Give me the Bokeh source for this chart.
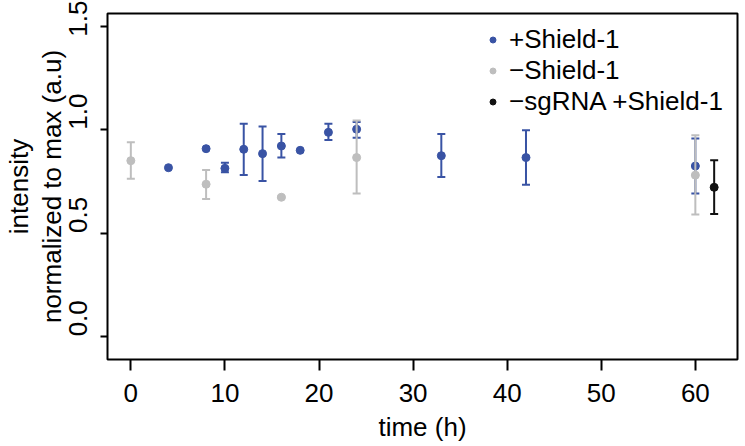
from bokeh.plotting import figure
from bokeh.models import (ColumnDataSource, Range1d, FixedTicker, CustomJSTickFormatter,
                          Legend, LegendItem)
from bokeh.embed import file_html
from bokeh.resources import INLINE

# ---- data ----
blue_t = [4, 8, 10, 12, 14, 16, 18, 21, 24, 33, 42, 60]
blue_v = [0.816, 0.908, 0.813, 0.905, 0.884, 0.921, 0.900, 0.987, 1.002, 0.874, 0.865, 0.824]
blue_lo = [0.816, 0.908, 0.794, 0.781, 0.752, 0.865, 0.900, 0.950, 0.961, 0.771, 0.733, 0.691]
blue_hi = [0.816, 0.908, 0.840, 1.028, 1.015, 0.979, 0.900, 1.028, 1.037, 0.979, 0.997, 0.957]

gray_t = [0, 8, 16, 24, 60]
gray_v = [0.850, 0.736, 0.673, 0.865, 0.780]
gray_lo = [0.762, 0.665, 0.668, 0.691, 0.589]
gray_hi = [0.939, 0.805, 0.678, 1.044, 0.973]

black_t = [62]
black_v = [0.721]
black_lo = [0.592]
black_hi = [0.852]

x_ticks = [0, 10, 20, 30, 40, 50, 60]
y_ticks = [0.0, 0.5, 1.0, 1.5]

BLUE = "#3953a4"
GRAY = "#bebebe"
BLACK = "#111111"
FONT = "Liberation Sans"
FS = "26px"

p = figure(width=741, height=444, output_backend="svg", toolbar_location=None,
           x_range=Range1d(-2.48, 64.48), y_range=Range1d(-0.112, 1.562),
           min_border_left=107, min_border_right=4, min_border_top=13, min_border_bottom=85)
p.grid.visible = False
p.outline_line_color = "black"
p.outline_line_width = 2
p.background_fill_color = "white"

def series(t, v, lo, hi, color):
    idx = [i for i in range(len(t)) if hi[i] != lo[i]]
    es = ColumnDataSource(dict(x=[t[i] for i in idx], lo=[lo[i] for i in idx], hi=[hi[i] for i in idx]))
    p.segment(x0="x", y0="lo", x1="x", y1="hi", source=es, line_color=color, line_width=2)
    p.scatter(x="x", y="lo", source=es, marker="dash", size=8, line_color=color, line_width=2)
    p.scatter(x="x", y="hi", source=es, marker="dash", size=8, line_color=color, line_width=2)
    ps = ColumnDataSource(dict(x=t, y=v))
    return p.scatter(x="x", y="y", source=ps, size=8, fill_color=color, line_color=color)

r_blue = series(blue_t, blue_v, blue_lo, blue_hi, BLUE)
r_gray = series(gray_t, gray_v, gray_lo, gray_hi, GRAY)
r_black = series(black_t, black_v, black_lo, black_hi, BLACK)

legend = Legend(items=[LegendItem(label="+Shield-1", renderers=[r_blue]),
                       LegendItem(label="\u2212Shield-1", renderers=[r_gray]),
                       LegendItem(label="\u2212sgRNA +Shield-1", renderers=[r_black])],
                location=(378, 242), padding=0, spacing=0, margin=0,
                glyph_width=15, glyph_height=15, label_standoff=9,
                label_text_font=FONT, label_text_font_size=FS, label_text_color="black",
                border_line_color=None, background_fill_alpha=0)
p.add_layout(legend)

# x axis
xa = p.xaxis[0]
xa.ticker = FixedTicker(ticks=x_ticks)
xa.axis_label = "time (h)"
xa.axis_line_color = None
xa.major_tick_out = 11
xa.major_tick_in = 0
xa.minor_tick_out = 0
xa.major_tick_line_width = 2
xa.major_label_standoff = 13
xa.axis_label_standoff = 7
xa.major_label_text_font = FONT
xa.major_label_text_font_size = FS
xa.axis_label_text_font = FONT
xa.axis_label_text_font_size = FS
xa.axis_label_text_font_style = "normal"
xa.major_label_text_color = "black"
xa.axis_label_text_color = "black"

# y axis (labels sit just above their ticks, as in the original)
ya = p.yaxis[0]
ya.ticker = FixedTicker(ticks=y_ticks)
ya.formatter = CustomJSTickFormatter(code="return '\\u00a0'.repeat(5) + tick.toFixed(1)")
ya.axis_label = "intensity\nnormalized to max (a.u)"
ya.axis_line_color = None
ya.major_tick_out = 7
ya.major_tick_in = 0
ya.minor_tick_out = 0
ya.major_tick_line_width = 2
ya.major_label_orientation = "vertical"
ya.major_label_standoff = 7
ya.axis_label_standoff = -6
ya.major_label_text_font = FONT
ya.major_label_text_font_size = FS
ya.axis_label_text_font = FONT
ya.axis_label_text_font_size = FS
ya.axis_label_text_font_style = "normal"
ya.axis_label_text_line_height = 1.08
ya.major_label_text_color = "black"
ya.axis_label_text_color = "black"

open("out.html", "w").write(file_html(p, INLINE))
